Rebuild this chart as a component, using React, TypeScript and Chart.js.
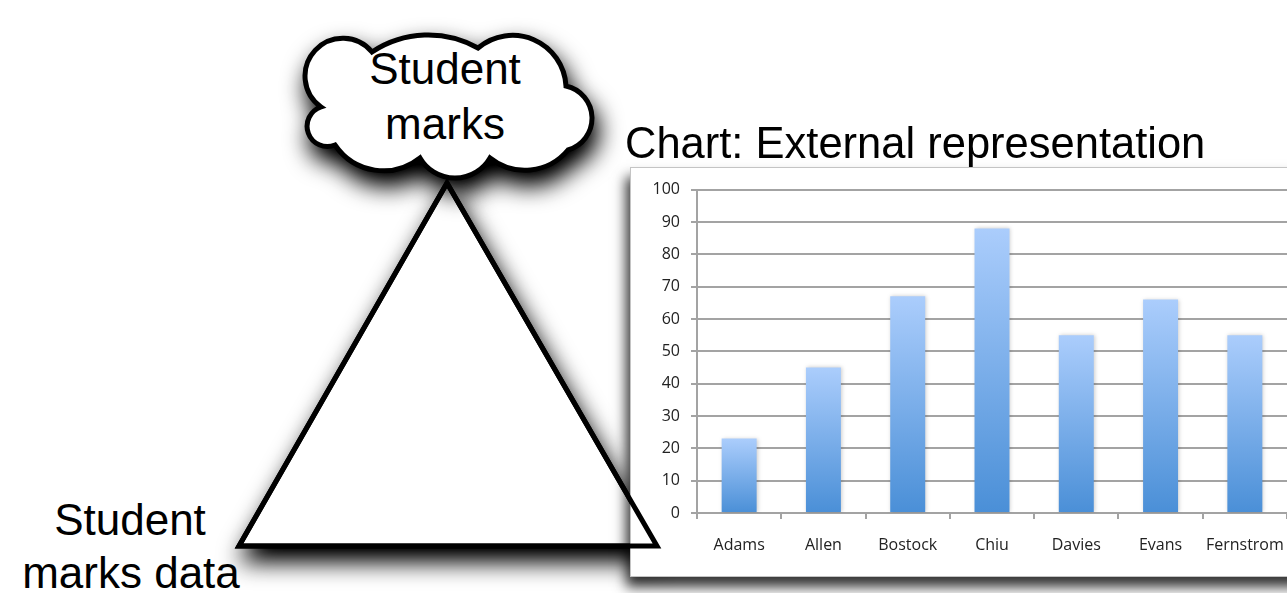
import React, { useEffect, useRef } from "react";
import { Chart, registerables } from "chart.js";

Chart.register(...registerables);

// ---- chart data ----
const students: string[] = ["Adams", "Allen", "Bostock", "Chiu", "Davies", "Evans", "Fernstrom"];
const marks: number[] = [23, 45, 67, 88, 55, 66, 55];
const markTicks: number[] = [0, 10, 20, 30, 40, 50, 60, 70, 80, 90, 100];

// ---- diagram texts ----
const chartTitle = "Chart: External representation";
const cloudLines = ["Student", "marks"];
const dataLines = ["Student", "marks data"];

const FONT = '"Liberation Sans", Arial, Helvetica, sans-serif';
const TICK_FONT = '"Open Sans", "Noto Sans", sans-serif';
const GRID = "#a3a3a3";

type P = [number, number];

function arcThrough(p0: P, m: P, p2: P): string {
  const [ax, ay] = p0, [bx, by] = m, [cx, cy] = p2;
  const d = 2 * (ax * (by - cy) + bx * (cy - ay) + cx * (ay - by));
  const ux = ((ax * ax + ay * ay) * (by - cy) + (bx * bx + by * by) * (cy - ay) + (cx * cx + cy * cy) * (ay - by)) / d;
  const uy = ((ax * ax + ay * ay) * (cx - bx) + (bx * bx + by * by) * (ax - cx) + (cx * cx + cy * cy) * (bx - ax)) / d;
  const r = Math.hypot(ax - ux, ay - uy);
  const cross = (bx - ax) * (cy - by) - (by - ay) * (cx - bx);
  const sweep = cross > 0 ? 1 : 0;
  const side = (q: P) => (cx - ax) * (q[1] - ay) - (cy - ay) * (q[0] - ax);
  const large = side([ux, uy]) * side(m) > 0 ? 1 : 0;
  return `A ${r.toFixed(2)} ${r.toFixed(2)} 0 ${large} ${sweep} ${cx} ${cy}`;
}

const cloudCusps: P[] = [
  [321, 107], [372, 52], [478, 48], [566, 86], [568, 150], [490, 158], [420, 158], [335, 145],
];
const cloudBulges: P[] = [
  [305.6, 69.4], [425, 35], [532, 39], [592, 118], [530, 170], [452, 178], [374, 170], [307, 127],
];

function cloudPath(): string {
  let d = `M ${cloudCusps[0][0]} ${cloudCusps[0][1]} `;
  for (let i = 0; i < cloudCusps.length; i++) {
    const p0 = cloudCusps[i];
    const p2 = cloudCusps[(i + 1) % cloudCusps.length];
    d += arcThrough(p0, cloudBulges[i], p2) + " ";
  }
  return d + "Z";
}

const trianglePath = "M 447 183 L 239 546 L 657 546 Z";

function BarChart() {
  const ref = useRef<HTMLCanvasElement | null>(null);
  useEffect(() => {
    if (!ref.current) return;
    const barShadow = {
      id: "barShadow",
      beforeDatasetsDraw(chart: any) {
        const c = chart.ctx;
        c.save();
        c.shadowColor = "rgba(0,0,0,0.2)";
        c.shadowBlur = 4;
        c.shadowOffsetX = 1;
        c.shadowOffsetY = 0;
      },
      afterDatasetsDraw(chart: any) {
        chart.ctx.restore();
      },
    };
    const chart = new Chart(ref.current, {
      type: "bar",
      data: {
        labels: students,
        datasets: [
          {
            data: marks,
            borderWidth: 0,
            categoryPercentage: 1,
            barPercentage: 0.415,
            backgroundColor: (ctx: any) => {
              const ch = ctx.chart;
              const y = ch.scales && ch.scales.y;
              if (!y || ctx.type !== "data") return "#6aa5e6";
              const top = y.getPixelForValue(ctx.raw);
              const base = y.getPixelForValue(0);
              if (!isFinite(top) || !isFinite(base) || top === base) return "#6aa5e6";
              const g = ch.ctx.createLinearGradient(0, top, 0, base);
              g.addColorStop(0, "#abcdfc");
              g.addColorStop(1, "#4a8fd7");
              return g;
            },
          },
        ],
      },
      options: {
        responsive: false,
        animation: false,
        layout: { padding: { left: 0, right: 30, top: 20, bottom: 0 } },
        plugins: {
          legend: { display: false },
          tooltip: { enabled: false },
          title: { display: false },
        },
        scales: {
          x: {
            grid: {
              display: true,
              drawOnChartArea: false,
              drawTicks: true,
              tickLength: 6,
              color: GRID,
              lineWidth: 2,
              offset: true,
            },
            border: { display: true, color: GRID, width: 2 },
            ticks: {
              color: "#222",
              font: { family: TICK_FONT, size: 16 },
              padding: 17,
              maxRotation: 0,
              autoSkip: false,
            },
            afterFit: (s: any) => {
              s.height = 62;
            },
          },
          y: {
            min: 0,
            max: 100,
            grid: { color: GRID, lineWidth: 2, tickLength: 6, drawTicks: true },
            border: { display: true, color: GRID, width: 2 },
            ticks: {
              color: "#222",
              font: { family: TICK_FONT, size: 16 },
              padding: 11,
            },
            afterBuildTicks: (s: any) => {
              s.ticks = markTicks.map((v) => ({ value: v }));
            },
            afterFit: (s: any) => {
              s.width = 66;
            },
          },
        },
      },
      plugins: [barShadow],
    } as any);
    return () => chart.destroy();
  }, []);
  return (
    <canvas
      ref={ref}
      width={686}
      height={406}
      style={{ position: "absolute", left: 631, top: 169, width: 686, height: 406 }}
    />
  );
}

export default function App() {
  const cp = cloudPath();
  return (
    <div
      style={{
        position: "fixed",
        left: 0,
        top: 0,
        width: 1287,
        height: 593,
        overflow: "hidden",
        background: "#fff",
      }}
    >
      <svg width={1287} height={593} style={{ position: "absolute", left: 0, top: 0, zIndex: 1 }}>
        <defs>
          <filter id="ds" x="-40%" y="-40%" width="180%" height="190%" colorInterpolationFilters="sRGB">
            <feGaussianBlur in="SourceAlpha" stdDeviation="12" />
            <feOffset dx="4" dy="13" result="off" />
            <feComponentTransfer>
              <feFuncA type="linear" slope="1.1" />
            </feComponentTransfer>
            <feMerge>
              <feMergeNode />
              <feMergeNode in="SourceGraphic" />
            </feMerge>
          </filter>
        </defs>
        <path d={trianglePath} fill="#fff" stroke="#000" strokeWidth={5} strokeLinejoin="miter" filter="url(#ds)" />
        <path d={cp} fill="#fff" stroke="#000" strokeWidth={5} strokeLinejoin="miter" filter="url(#ds)" />
        <g fontFamily={FONT} fontSize={44} fill="#000" textAnchor="middle">
          <text x={445} y={84}>{cloudLines[0]}</text>
          <text x={445} y={139}>{cloudLines[1]}</text>
          <text x={130} y={535}>{dataLines[0]}</text>
          <text x={131} y={588}>{dataLines[1]}</text>
        </g>
      </svg>
      <div
        style={{
          position: "absolute",
          left: 630,
          top: 167,
          width: 720,
          height: 408,
          background: "#fff",
          border: "1px solid #c4c4c4",
          boxShadow: "-4px 10px 12px rgba(0,0,0,0.8)",
          zIndex: 2,
        }}
      />
      <div style={{ position: "absolute", left: 0, top: 0, zIndex: 3 }}>
        <BarChart />
      </div>
      <svg width={1287} height={593} style={{ position: "absolute", left: 0, top: 0, zIndex: 4, pointerEvents: "none" }}>
        <path d={trianglePath} fill="none" stroke="#000" strokeWidth={5} strokeLinejoin="miter" />
        <text x={625} y={158} fontFamily={FONT} fontSize={43.5} fill="#000">
          {chartTitle}
        </text>
      </svg>
    </div>
  );
}
